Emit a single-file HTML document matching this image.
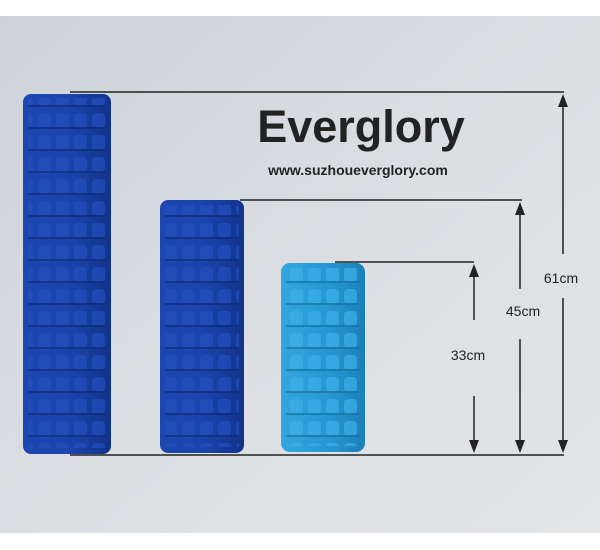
<!DOCTYPE html>
<html><head><meta charset="utf-8"><style>
html,body{margin:0;padding:0;width:600px;height:550px;overflow:hidden;background:#fff}
svg{display:block}
</style></head><body>
<svg width="600" height="550" viewBox="0 0 600 550" xmlns="http://www.w3.org/2000/svg">
<defs>
<linearGradient id="bg" x1="0" y1="0" x2="1" y2="1">
<stop offset="0" stop-color="#cdd3d9"/><stop offset="0.6" stop-color="#dde1e4"/><stop offset="1" stop-color="#e2e4e6"/>
</linearGradient>
<linearGradient id="db" x1="0" x2="1">
<stop offset="0" stop-color="#1d46b0"/><stop offset="0.5" stop-color="#1b45ad"/><stop offset="1" stop-color="#12338a"/>
</linearGradient>
<linearGradient id="lb" x1="0" x2="1">
<stop offset="0" stop-color="#34a6df"/><stop offset="0.6" stop-color="#2596d2"/><stop offset="1" stop-color="#1c7fb8"/>
</linearGradient>
<pattern id="pd" width="18" height="22" patternUnits="userSpaceOnUse">
<rect x="2" y="3" width="13" height="15" rx="4" fill="#2350bd"/><rect x="0" y="17" width="18" height="2" fill="#0f2c78"/>
</pattern>
<pattern id="pl" width="18" height="22" patternUnits="userSpaceOnUse">
<rect x="2" y="3" width="13" height="15" rx="4" fill="#3db0e8"/><rect x="0" y="17" width="18" height="2" fill="#17729f"/>
</pattern>
</defs>
<rect x="0" y="16" width="600" height="517" fill="url(#bg)"/>
<rect x="23" y="94" width="88" height="360" rx="8" fill="url(#db)"/>
<rect x="28" y="98" width="78" height="350" fill="url(#pd)" opacity="0.7"/>
<rect x="160" y="200" width="84" height="253" rx="8" fill="url(#db)"/>
<rect x="165" y="205" width="74" height="242" fill="url(#pd)" opacity="0.7"/>
<rect x="281" y="263" width="84" height="189" rx="9" fill="url(#lb)"/>
<rect x="286" y="268" width="74" height="178" fill="url(#pl)" opacity="0.7"/>
<g stroke="#222" stroke-width="1.5" fill="none">
<line x1="70" y1="92" x2="564" y2="92"/>
<line x1="240" y1="200" x2="522" y2="200"/>
<line x1="335" y1="262" x2="474" y2="262"/>
<line x1="70" y1="455" x2="564" y2="455"/>
<line x1="563" y1="100" x2="563" y2="254"/>
<line x1="563" y1="298" x2="563" y2="447"/>
<line x1="520" y1="207" x2="520" y2="289"/>
<line x1="520" y1="339" x2="520" y2="447"/>
<line x1="474" y1="269" x2="474" y2="320"/>
<line x1="474" y1="396" x2="474" y2="447"/>
</g>
<g fill="#222">
<polygon points="563,94 558,107 568,107"/><polygon points="563,453 558,440 568,440"/>
<polygon points="520,202 515,215 525,215"/><polygon points="520,453 515,440 525,440"/>
<polygon points="474,264 469,277 479,277"/><polygon points="474,453 469,440 479,440"/>
</g>
<g font-family="Liberation Sans, sans-serif" fill="#222">
<text x="361" y="142" font-size="45" font-weight="bold" text-anchor="middle">Everglory</text>
<text x="358" y="175" font-size="14" font-weight="bold" text-anchor="middle">www.suzhoueverglory.com</text>
<text x="561" y="283" font-size="14" text-anchor="middle">61cm</text>
<text x="523" y="316" font-size="14" text-anchor="middle">45cm</text>
<text x="468" y="360" font-size="14" text-anchor="middle">33cm</text>
</g>
</svg>
</body></html>
